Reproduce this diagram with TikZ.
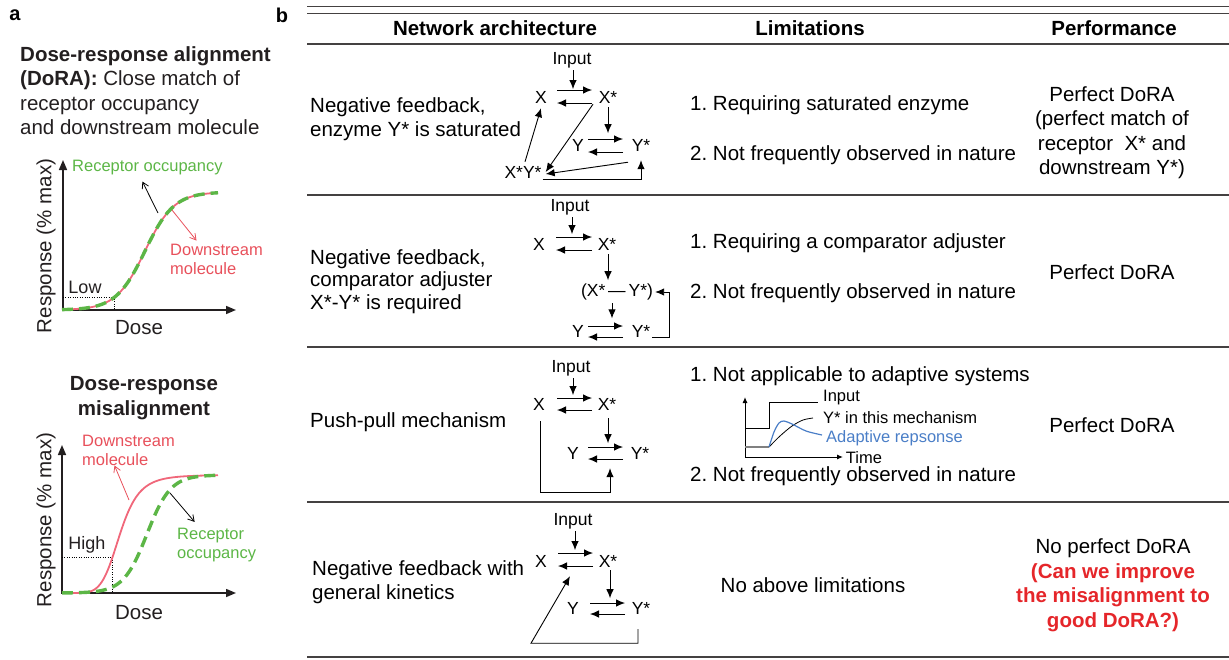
\documentclass[tikz,border=0pt]{standalone}
\usepackage{fontspec}
\setmainfont{Liberation Sans}
\usetikzlibrary{arrows.meta}
\frenchspacing

\definecolor{pinkc}{RGB}{240,103,122}
\definecolor{greenc}{RGB}{92,182,70}
\definecolor{redtxt}{RGB}{232,80,91}
\definecolor{boldred}{RGB}{229,38,42}
\definecolor{bluec}{RGB}{74,126,199}
\definecolor{ink}{RGB}{35,31,32}

\tikzset{
  body/.style={font=\fontsize{20.5}{24.5}\selectfont, inner sep=0pt},
  head/.style={font=\fontsize{20.5}{24.5}\selectfont\bfseries, inner sep=0pt},
  net/.style={font=\fontsize{17.5}{20}\selectfont, inner sep=0pt},
  lbl/.style={font=\fontsize{16.5}{19}\selectfont, inner sep=0pt},
  arr/.style={line width=0.9pt, -{Latex[length=9pt,width=7.5pt]}},
  axes/.style={line width=1.5pt, draw=ink, {Triangle[length=10pt,width=8pt]}-{Triangle[length=10pt,width=8pt]}},
  pointer/.style={line width=0.8pt, -{Straight Barb[length=6pt,width=7pt]}},
  rule/.style={line width=1.3pt, draw=ink!85},
  curve/.style={line width=1.8pt, pinkc, domain=62:218, samples=90},
  dcurve/.style={line width=3.4pt, greenc, dash pattern=on 11pt off 6pt, domain=62:218, samples=90}
}

\begin{document}
\begin{tikzpicture}[x=1pt, y=-1pt, declare function={hill(\t)=\t*\t*\t*\t*\t*\t/(1+\t*\t*\t*\t*\t*\t);}]
\useasboundingbox (0,0) rectangle (1229,659);

% panel a
\node[head, font=\fontsize{20}{24}\selectfont\bfseries] (pa) at (15,15) {a};
\node[head, font=\fontsize{20}{24}\selectfont\bfseries] (pb) at (282,15) {b};
\node[body, anchor=west, align=left, text=ink] (ttl1) at (20,90.5) {\textbf{Dose-response alignment}\\\textbf{(DoRA):} Close match of\\receptor occupancy\\and downstream molecule};

\draw[axes] (63,160) -- (63,310) -- (236,310);
\node[body, rotate=90, text=ink] (resp1) at (46,246) {Response (\% max)};
\node[body, text=ink] (dose1) at (139,328) {Dose};
\draw[dotted, thin] (63,297) -| (114,310);
\node[lbl, font=\fontsize{18}{20}\selectfont, text=ink] (low) at (85,287) {Low};
\draw[curve] plot (\x, {310-118/(1+exp(-(\x-145)/14.5))});
\draw[dcurve] plot (\x, {310-118/(1+exp(-(\x-145)/14.5))});
\node[lbl, text=greenc, anchor=west] (occ1) at (72,168) {Receptor occupancy};
\node[lbl, text=redtxt, anchor=west, align=left] (dm1) at (170,259) {Downstream\\molecule};
\draw[pointer] (158,213) -- ([xshift=-5,yshift=-6]occ1.south);
\draw[pointer, redtxt] (172,210) -- ([xshift=-20,yshift=3]dm1.north);

\node[head, align=center, text=ink] (ttl2) at (144,398) {Dose-response\\misalignment};
\draw[axes] (62,445) -- (62,593) -- (236,593);
\node[body, rotate=90, text=ink] (resp2) at (46,520) {Response (\% max)};
\node[body, text=ink] (dose2) at (139,613) {Dose};
\draw[dotted, thin] (62,557) -| (112,593);
\node[lbl, font=\fontsize{18}{20}\selectfont, text=ink] (high) at (87,545) {High};
\draw[curve] plot (\x, {593-118*hill((\x-62)/58)});
\draw[dcurve] plot (\x, {593-118/(1+exp(-(\x-147)/11.8))});
\node[lbl, text=redtxt, anchor=west, align=left] (dm2) at (82,450) {Downstream\\molecule};
\node[lbl, text=greenc, anchor=west, align=left] (occ2) at (177,545) {Receptor\\occupancy};
\draw[pointer, redtxt] (129,500) -- ([xshift=-14]dm2.south);
\draw[pointer] (170,493) -- ([xshift=-22,yshift=6]occ2.north);

% panel b
\draw[rule, line width=0.9pt] (307,6) -- (1229,6);
\draw[rule, line width=0.9pt] (307,13) -- (1229,13);
\foreach \y in {44,195,347,502,657}
  \draw[rule] (307,\y) -- (1229,\y);

\node[head] (hnet) at (495,28) {Network architecture};
\node[head] (hlim) at (810,28) {Limitations};
\node[head] (hperf) at (1114,28) {Performance};

\node[body, anchor=west, align=left] (arch1) at (310,119) {Negative feedback,\\enzyme Y* is saturated};
\node[body, anchor=west, align=left] (arch2) at (310,281.5) {Negative feedback,\\[-2pt]comparator adjuster\\[-2pt]X*-Y* is required};
\node[body, anchor=west] (arch3) at (310,422) {Push-pull mechanism};
\node[body, anchor=west, align=left] (arch4) at (312,582) {Negative feedback with\\general kinetics};

\node[body, anchor=west] (lim1a) at (690,105) {1. Requiring saturated enzyme};
\node[body, anchor=west] (lim1b) at (690,155) {2. Not frequently observed in nature};
\node[body, anchor=west] (lim2a) at (690,243) {1. Requiring a comparator adjuster};
\node[body, anchor=west] (lim2b) at (690,293) {2. Not frequently observed in nature};
\node[body, anchor=west] (lim3a) at (690,376) {1. Not applicable to adaptive systems};
\node[body, anchor=west] (lim3b) at (690,476) {2. Not frequently observed in nature};
\node[body] (lim4) at (813,585) {No above limitations};

\node[body, align=center] (perf1) at (1112,132.5) {Perfect DoRA\\(perfect match of\\receptor\ \ X* and\\downstream Y*)};
\node[body] (perf2) at (1112,272) {Perfect DoRA};
\node[body] (perf3) at (1112,425) {Perfect DoRA};
\node[body, align=center] (perf4) at (1113,585) {No perfect DoRA\\\textcolor{boldred}{\bfseries(Can we improve}\\\textcolor{boldred}{\bfseries the misalignment to}\\\textcolor{boldred}{\bfseries good DoRA?)}};

% network 1
\node[net] (in1) at (572,60) {Input};
\node[net] (x1) at (541,97) {X};
\node[net] (xs1) at (608,97) {X*};
\node[net] (y1) at (578,145) {Y};
\node[net] (ys1) at (641,145) {Y*};
\node[net] (xy1) at (523,172) {X*Y*};
\draw[arr] ([xshift=1,yshift=-2]in1.south) -- ++(0,19);
\draw[arr] ([xshift=16,yshift=7]x1.center) -- ([xshift=-16,yshift=7]xs1.center);
\draw[arr] ([xshift=-16,yshift=-6]xs1.center) -- ([xshift=16,yshift=-6]x1.center);
\draw[arr] ([yshift=-4]xs1.south) -- ++(0,26);
\draw[arr] ([xshift=10,yshift=6]y1.center) -- ([xshift=-18,yshift=6]ys1.center);
\draw[arr] ([xshift=-18,yshift=-7]ys1.center) -- ([xshift=10,yshift=-7]y1.center);
\draw[arr] ([xshift=2,yshift=4]xy1.north) -- ([yshift=-5]x1.south);
\draw[arr] ([xshift=-15,yshift=-1]xs1.south) -- ([xshift=4]xy1.east);
\draw[arr] ([xshift=-13,yshift=-11]ys1.south) -- ([xshift=4,yshift=-2]xy1.east);
\draw[arr] ([xshift=1,yshift=-7]xy1.east) -| ([yshift=-9]ys1.south);

% network 2
\node[net] (in2) at (570,207) {Input};
\node[net] (x2) at (539,244) {X};
\node[net] (xs2) at (607,244) {X*};
\node[net] (cmp2) at (617,292) {(X*\,\textemdash\,Y*)};
\node[net] (y2) at (578,331) {Y};
\node[net] (ys2) at (641,331) {Y*};
\draw[arr] ([xshift=2,yshift=-2]in2.south) -- ++(0,17);
\draw[arr] ([xshift=17,yshift=7]x2.center) -- ([xshift=-15,yshift=7]xs2.center);
\draw[arr] ([xshift=-15,yshift=-6]xs2.center) -- ([xshift=17,yshift=-6]x2.center);
\draw[arr] ([xshift=1,yshift=-4]xs2.south) -- ++(0,26);
\draw[arr] ([xshift=-5,yshift=-3]cmp2.south) -- ++(0,15);
\draw[arr] ([xshift=10,yshift=5]y2.center) -- ([xshift=-18,yshift=5]ys2.center);
\draw[arr] ([xshift=-18,yshift=-6]ys2.center) -- ([xshift=10,yshift=-6]y2.center);
\draw[arr] ([xshift=2,yshift=-6]ys2.east) -- ++(17,0) |- ([xshift=2]cmp2.east);

% network 3
\node[net] (in3) at (571,368) {Input};
\node[net] (x3) at (539,404) {X};
\node[net] (xs3) at (607,404) {X*};
\node[net] (y3) at (573,453) {Y};
\node[net] (ys3) at (640,453) {Y*};
\draw[arr] ([xshift=2,yshift=-2]in3.south) -- ++(0,17);
\draw[arr] ([xshift=18,yshift=6]x3.center) -- ([xshift=-15,yshift=6]xs3.center);
\draw[arr] ([xshift=-15,yshift=-6]xs3.center) -- ([xshift=18,yshift=-6]x3.center);
\draw[arr] ([xshift=1,yshift=-8]xs3.south) -- ++(0,25);
\draw[arr] ([xshift=15,yshift=6]y3.center) -- ([xshift=-17,yshift=6]ys3.center);
\draw[arr] ([xshift=-17,yshift=-6]ys3.center) -- ([xshift=15,yshift=-6]y3.center);
\draw[arr] ([xshift=1,yshift=-11]x3.south) -- ++(0,71) -| ([xshift=-30,yshift=-9]ys3.south);

% time course
\draw[line width=1pt, {Latex[length=6pt,width=5pt]}-{Latex[length=6pt,width=5pt]}] (745,397) -- (745,457) -- (843,457);
\node[lbl] (time) at (864,458) {Time};
\draw[line width=0.9pt] (745,428) -- (769,428) -- (769,402) -- (818,402);
\node[lbl, anchor=west] (inp3) at (823,398) {Input};
\draw[line width=1.4pt, gray] (745,447) -- (769,447);
\draw[line width=0.8pt] plot[smooth] coordinates {(769,447) (780,436) (792,426) (803,420) (813,418)};
\draw[bluec, line width=1.2pt] plot[smooth] coordinates {(769,447) (774,432) (779,423) (784,421) (792,424) (806,431) (822,435)};
\node[lbl, anchor=west] (ystar3) at (823,418) {Y* in this mechanism};
\node[lbl, anchor=west, text=bluec] (adap3) at (826,438) {Adaptive repsonse};

% network 4
\node[net] (in4) at (573,521) {Input};
\node[net] (x4) at (541,561) {X};
\node[net] (xs4) at (608,561) {X*};
\node[net] (y4) at (573,608) {Y};
\node[net] (ys4) at (641,608) {Y*};
\draw[arr] ([xshift=2,yshift=-2]in4.south) -- ++(0,19);
\draw[arr] ([xshift=17,yshift=8]x4.center) -- ([xshift=-15,yshift=8]xs4.center);
\draw[arr] ([xshift=-15,yshift=-5]xs4.center) -- ([xshift=17,yshift=-5]x4.center);
\draw[arr] ([xshift=2,yshift=-3]xs4.south) -- ++(0,28);
\draw[arr] ([xshift=17,yshift=5]y4.center) -- ([xshift=-16,yshift=5]ys4.center);
\draw[arr] ([xshift=-16,yshift=-6]ys4.center) -- ([xshift=17,yshift=-6]y4.center);
\draw[arr] ([xshift=-3,yshift=-15]ys4.south) -- ++(0,14) -- ++(-107,0) -- ([xshift=29,yshift=-9]x4.south);
\end{tikzpicture}
\end{document}
